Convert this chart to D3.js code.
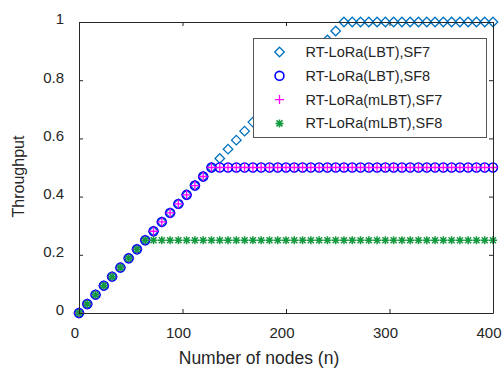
<!DOCTYPE html>
<html>
<head>
<meta charset="utf-8">
<script src="https://cdn.jsdelivr.net/npm/d3@7/dist/d3.min.js"></script>
<style>
  body { margin: 0; background: #fff; }
  text { font-family: "Liberation Sans", Arial, sans-serif; fill: #262626; }
</style>
</head>
<body>
<div id="chartdiv"></div>
<script>
// number of nodes (x)
var nodes = [0, 8, 16, 24, 32, 40, 48, 56, 64, 72, 80, 88, 96, 104, 112, 120, 128, 136, 144, 152,
  160, 168, 176, 184, 192, 200, 208, 216, 224, 232, 240, 248, 256, 264, 272, 280, 288, 296, 304,
  312, 320, 328, 336, 344, 352, 360, 368, 376, 384, 392, 400];

var lbtSF7 = [0, .031, .063, .094, .125, .156, .188, .219, .25, .281, .313, .344, .375, .406, .438,
  .469, .5, .531, .563, .594, .625, .656, .688, .719, .75, .781, .813, .844, .875, .906, .938, .969,
  1, 1, 1, 1, 1, 1, 1, 1, 1, 1, 1, 1, 1, 1, 1, 1, 1, 1, 1];

var lbtSF8 = [0, .031, .063, .094, .125, .156, .188, .219, .25, .281, .313, .344, .375, .406, .438,
  .469, .5, .5, .5, .5, .5, .5, .5, .5, .5, .5, .5, .5, .5, .5, .5, .5, .5, .5, .5, .5, .5, .5, .5,
  .5, .5, .5, .5, .5, .5, .5, .5, .5, .5, .5, .5];

var mlbtSF7 = [0, .031, .063, .094, .125, .156, .188, .219, .25, .281, .313, .344, .375, .406, .438,
  .469, .5, .5, .5, .5, .5, .5, .5, .5, .5, .5, .5, .5, .5, .5, .5, .5, .5, .5, .5, .5, .5, .5, .5,
  .5, .5, .5, .5, .5, .5, .5, .5, .5, .5, .5, .5];

var mlbtSF8 = [0, .031, .063, .094, .125, .156, .188, .219, .25, .25, .25, .25, .25, .25, .25,
  .25, .25, .25, .25, .25, .25, .25, .25, .25, .25, .25, .25, .25, .25, .25, .25, .25, .25, .25, .25,
  .25, .25, .25, .25, .25, .25, .25, .25, .25, .25, .25, .25, .25, .25, .25, .25];

var xTicks = [0, 100, 200, 300, 400];
var yTicks = [0, 0.2, 0.4, 0.6, 0.8, 1];
var legendNames = ["RT-LoRa(LBT),SF7", "RT-LoRa(LBT),SF8", "RT-LoRa(mLBT),SF7", "RT-LoRa(mLBT),SF8"];

var margin = {top: 22, right: 10, bottom: 56, left: 79},
  width = 503 - margin.left - margin.right,
  height = 369 - margin.top - margin.bottom;

var svg = d3.select("#chartdiv").append("svg")
    .attr("width", 503)
    .attr("height", 369)
  .append("g")
    .attr("transform", "translate(" + margin.left + "," + margin.top + ")");

var x = d3.scaleLinear().domain([0, 400]).range([0, width]);
var y = d3.scaleLinear().domain([0, 1]).range([height, 0]);

// marker shapes
var symDiamond = d3.symbol().type(d3.symbolDiamond2).size(58)();
var symCircle = d3.symbol().type(d3.symbolCircle).size(62)();

var series = [
  {vals: lbtSF7, color: "#0072BD", kind: "diamond"},
  {vals: lbtSF8, color: "#0000FF", kind: "circle"},
  {vals: mlbtSF7, color: "#FF00FF", kind: "plus"},
  {vals: mlbtSF8, color: "#149a3e", kind: "star"}
];

function drawMarker(g, kind, color) {
  if (kind == "diamond") {
    g.append("path").attr("d", symDiamond).attr("fill", "none").attr("stroke", color).attr("stroke-width", 1.3);
  } else if (kind == "circle") {
    g.append("path").attr("d", symCircle).attr("fill", "none").attr("stroke", color).attr("stroke-width", 1.6);
  } else if (kind == "plus") {
    g.append("path").attr("d", "M-4.5,0H4.5M0,-4.5V4.5").attr("stroke", color).attr("stroke-width", 1.3);
  } else {
    g.append("path").attr("d", "M-4,0H4M0,-4V4M-3,-3L3,3M-3,3L3,-3").attr("stroke", color).attr("stroke-width", 1.5);
  }
}

series.forEach(function(s) {
  var pts = svg.append("g").selectAll("g")
      .data(s.vals)
    .enter().append("g")
      .attr("transform", (d, i) => "translate(" + x(nodes[i]) + "," + y(d) + ")");
  pts.each(function() { drawMarker(d3.select(this), s.kind, s.color); });
});

// axes box with inward ticks
var axColor = "#262626";
var xAxis = svg.append("g")
  .attr("transform", "translate(0," + height + ")")
  .call(d3.axisBottom(x).tickValues(xTicks).tickSizeInner(-4).tickSizeOuter(0).tickPadding(14));
var yAxis = svg.append("g")
  .call(d3.axisLeft(y).tickValues(yTicks).tickFormat(d3.format("~g")).tickSizeInner(-4).tickSizeOuter(0).tickPadding(15));
svg.append("g")
  .call(d3.axisTop(x).tickValues(xTicks).tickSizeInner(-4).tickSizeOuter(0).tickFormat(""));
svg.append("g")
  .attr("transform", "translate(" + width + ",0)")
  .call(d3.axisRight(y).tickValues(yTicks).tickSizeInner(-4).tickSizeOuter(0).tickFormat(""));

svg.selectAll(".domain").attr("stroke", axColor);
svg.selectAll(".tick line").attr("stroke", axColor);
svg.selectAll(".tick text").attr("font-size", 15).attr("font-family", "Liberation Sans, Arial, sans-serif").attr("fill", axColor);
yAxis.selectAll(".tick text").attr("dy", "0.13em");
xAxis.selectAll(".tick text").attr("dx", -4.5);

// axis labels
svg.append("text")
  .attr("x", 259 - margin.left)
  .attr("y", height + 51)
  .attr("text-anchor", "middle")
  .attr("font-size", 17.5)
  .text("Number of nodes (n)");

svg.append("text")
  .attr("transform", "translate(" + (-55) + "," + (height / 2 + 9) + ") rotate(-90)")
  .attr("text-anchor", "middle")
  .attr("font-size", 16)
  .text("Throughput");

// legend
var lg = svg.append("g").attr("transform", "translate(" + (253.5 - margin.left) + "," + (38.5 - margin.top) + ")");
lg.append("rect")
  .attr("width", 233).attr("height", 99)
  .attr("fill", "#fff").attr("stroke", "#555").attr("stroke-width", 1);
legendNames.forEach(function(name, i) {
  var row = lg.append("g").attr("transform", "translate(0," + (13.5 + i * 23.8) + ")");
  drawMarker(row.append("g").attr("transform", "translate(26,0)"), series[i].kind, series[i].color);
  row.append("text").attr("x", 52).attr("dy", "0.35em").attr("font-size", 14.5).text(name);
});
</script>
</body>
</html>
